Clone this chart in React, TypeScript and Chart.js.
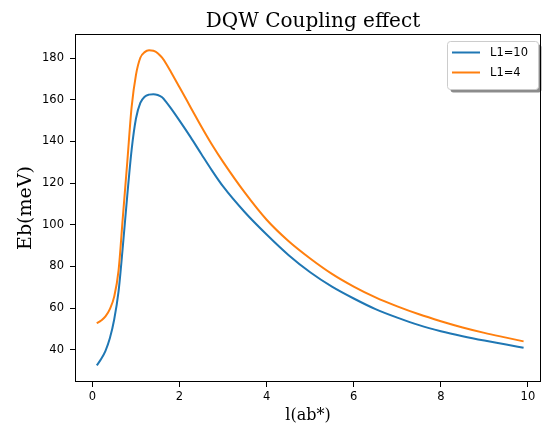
import React, { useEffect, useRef } from "react";
import { Chart, registerables } from "chart.js";

Chart.register(...registerables);

// ---- data ----
const xValues = [
  0.1, 0.2, 0.3, 0.4, 0.5, 0.6, 0.7, 0.8, 0.9, 1.0, 1.1, 1.2, 1.3, 1.4, 1.5, 1.6,
  1.7, 1.8, 2.0, 2.25, 2.5, 2.75, 3.0, 3.5, 4.0, 4.5, 5.0, 5.5, 6.0, 6.5, 7.0, 7.5, 8.0,
  8.5, 9.0, 9.5, 9.9,
];
const seriesL10 = [
  32.5, 35.5, 39.5, 45.5, 54.5, 68, 90, 114, 136, 151, 158.5, 161.5, 162.5, 162.7, 162.3, 161.2,
  158.8, 156, 150, 142.2, 134, 125.9, 118.4, 106, 95.3, 85.5, 77.2, 70.3, 64.6, 59.5, 55.4, 51.8, 48.9,
  46.5, 44.4, 42.5, 40.9,
];
const seriesL4 = [
  52.7, 54, 56, 59.5, 65.5, 78, 104, 130, 156.5, 172, 180.2, 182.9, 183.75, 183.55, 182.4, 180.2,
  177.1, 173.5, 166, 156.6, 147.2, 138.3, 130.2, 115.4, 102.4, 92.2, 83.8, 76.4, 70.3, 65.1, 60.8, 57, 53.7,
  50.7, 48.1, 45.8, 44,
];
const seriesLabels = ["L1=10", "L1=4"];
const seriesColors = ["#1f77b4", "#ff7f0e"];
const xTicks = [0, 2, 4, 6, 8, 10];
const yTicks = [40, 60, 80, 100, 120, 140, 160, 180];
const titleText = "DQW Coupling effect";
const xTitle = "l(ab*)";
const yTitle = "Eb(meV)";

const decorPlugin = {
  id: "decor",
  afterDraw(chart: any) {
    const { ctx, chartArea: a } = chart;
    ctx.save();
    // frame (all four spines)
    ctx.strokeStyle = "#000";
    ctx.lineWidth = 1;
    ctx.strokeRect(a.left + 0.5, a.top + 0.5, a.right - a.left - 1, a.bottom - a.top - 1);

    // title
    ctx.fillStyle = "#000";
    ctx.font = '20px "DejaVu Serif"';
    ctx.textAlign = "center";
    ctx.textBaseline = "alphabetic";
    ctx.fillText(titleText, 313, 27);

    // legend
    const bx = 447.5, by = 41.5, bw = 91, bh = 48, r = 3;
    const rr = (x: number, y: number) => {
      ctx.beginPath();
      ctx.moveTo(x + r, y);
      ctx.lineTo(x + bw - r, y);
      ctx.quadraticCurveTo(x + bw, y, x + bw, y + r);
      ctx.lineTo(x + bw, y + bh - r);
      ctx.quadraticCurveTo(x + bw, y + bh, x + bw - r, y + bh);
      ctx.lineTo(x + r, y + bh);
      ctx.quadraticCurveTo(x, y + bh, x, y + bh - r);
      ctx.lineTo(x, y + r);
      ctx.quadraticCurveTo(x, y, x + r, y);
      ctx.closePath();
    };
    rr(bx + 3, by + 3);
    ctx.fillStyle = "rgba(0,0,0,0.45)";
    ctx.fill();
    rr(bx, by);
    ctx.fillStyle = "#fff";
    ctx.fill();
    ctx.strokeStyle = "#cccccc";
    ctx.stroke();

    ctx.font = '11.5px "DejaVu Sans"';
    ctx.textAlign = "left";
    ctx.textBaseline = "middle";
    chart.data.datasets.forEach((ds: any, i: number) => {
      const y = 52.5 + i * 20;
      ctx.strokeStyle = ds.borderColor;
      ctx.lineWidth = 2;
      ctx.beginPath();
      ctx.moveTo(452, y);
      ctx.lineTo(480, y);
      ctx.stroke();
      ctx.fillStyle = "#000";
      ctx.fillText(ds.label, 490, y + 0.5);
    });
    ctx.restore();
  },
};

export default function App() {
  const ref = useRef<HTMLCanvasElement | null>(null);

  useEffect(() => {
    if (!ref.current) return;
    const mk = (ys: number[]) => xValues.map((x, i) => ({ x, y: ys[i] }));
    const tickGrid = {
      display: true,
      drawOnChartArea: false,
      drawTicks: true,
      tickLength: 5,
      color: "#000",
      lineWidth: 1,
    };
    const chart = new Chart(ref.current, {
      type: "line",
      data: {
        datasets: [
          {
            label: seriesLabels[0],
            data: mk(seriesL10),
            borderColor: seriesColors[0],
            backgroundColor: seriesColors[0],
            borderWidth: 2,
            pointRadius: 0,
            fill: false,
            cubicInterpolationMode: "monotone",
            order: 1,
          },
          {
            label: seriesLabels[1],
            data: mk(seriesL4),
            borderColor: seriesColors[1],
            backgroundColor: seriesColors[1],
            borderWidth: 2,
            pointRadius: 0,
            fill: false,
            cubicInterpolationMode: "monotone",
            order: 0,
          },
        ],
      },
      options: {
        responsive: false,
        animation: false,
        devicePixelRatio: 1,
        layout: { padding: { top: 34, right: 1, bottom: 0, left: 0 } },
        plugins: {
          legend: { display: false },
          title: { display: false },
          tooltip: { enabled: false },
        },
        scales: {
          x: {
            type: "linear",
            min: -0.4,
            max: 10.3,
            afterBuildTicks: (s: any) => {
              s.ticks = xTicks.map((v) => ({ value: v }));
            },
            afterFit: (s: any) => {
              s.height = 43;
            },
            grid: tickGrid,
            border: { display: false },
            ticks: {
              color: "#000",
              font: { family: "DejaVu Sans", size: 11.5 },
              padding: 3,
              maxRotation: 0,
              autoSkip: false,
            },
            title: {
              display: true,
              text: xTitle,
              color: "#000",
              font: { family: "DejaVu Serif", size: 16 },
              padding: 0,
            },
          },
          y: {
            type: "linear",
            min: 24.5,
            max: 191.6,
            afterBuildTicks: (s: any) => {
              s.ticks = yTicks.map((v) => ({ value: v }));
            },
            afterFit: (s: any) => {
              s.width = 75;
            },
            grid: tickGrid,
            border: { display: false },
            ticks: {
              color: "#000",
              font: { family: "DejaVu Sans", size: 11.5 },
              padding: 6,
              autoSkip: false,
            },
            title: {
              display: true,
              text: yTitle,
              color: "#000",
              font: { family: "DejaVu Serif", size: 19 },
              padding: { top: 14.5, bottom: 0 },
            },
          },
        },
      },
      plugins: [decorPlugin],
    } as any);
    return () => chart.destroy();
  }, []);

  return (
    <div style={{ position: "absolute", left: 0, top: 0, width: 542, height: 425 }}>
      <canvas ref={ref} width={542} height={425} />
    </div>
  );
}
